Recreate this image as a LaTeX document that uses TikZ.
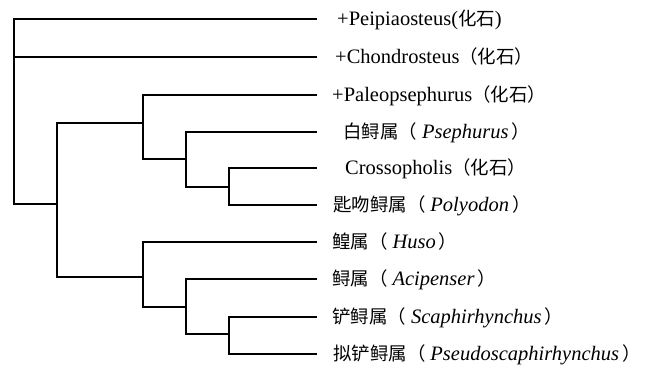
\documentclass[tikz,border=0pt]{standalone}
\usepackage{fontspec}
\setmainfont{Liberation Serif}
\newfontfamily\cjk[Scale=0.9]{Noto Sans CJK SC}
\newcommand{\zh}[1]{{\cjk #1}}
\newcommand{\gen}[1]{\zh{（}\hspace{5pt}\textit{#1}\hspace{3pt}\zh{）}}
\begin{document}
\begin{tikzpicture}[x=1pt,y=-1pt,
  br/.style={line width=1.1pt, line cap=rect},
  lbl/.style={anchor=base west, inner sep=0pt, font=\fontsize{20.5}{22}\selectfont}]
\useasboundingbox (0,0) rectangle (662,366);
% leaf ends
\coordinate (e1) at (316,19);
\coordinate (e2) at (316,57);
\coordinate (e3) at (316,95);
\coordinate (e4) at (316,132);
\coordinate (e5) at (316,168);
\coordinate (e6) at (316,205);
\coordinate (e7) at (316,242);
\coordinate (e8) at (316,279);
\coordinate (e9) at (316,317);
\coordinate (e10) at (316,354);
% internal nodes
\coordinate (r) at (14,204);
\coordinate (a) at (57,204);
\coordinate (b) at (143,123);
\coordinate (d) at (186,159);
\coordinate (f) at (229,187);
\coordinate (c) at (143,277);
\coordinate (g) at (186,307);
\coordinate (h) at (229,334);
% branches
\draw[br] (r) |- (e1);
\draw[br] (r) |- (e2);
\draw[br] (r) -- (a);
\draw[br] (a) |- (b);
\draw[br] (a) |- (c);
\draw[br] (b) |- (e3);
\draw[br] (b) |- (d);
\draw[br] (d) |- (e4);
\draw[br] (d) |- (f);
\draw[br] (f) |- (e5);
\draw[br] (f) |- (e6);
\draw[br] (c) |- (e7);
\draw[br] (c) |- (g);
\draw[br] (g) |- (e8);
\draw[br] (g) |- (h);
\draw[br] (h) |- (e9);
\draw[br] (h) |- (e10);
% labels
\node[lbl] (t1) at (337,26) {+Peipiaosteus(\zh{化石})};
\node[lbl] (t2) at (335,64) {+Chondrosteus\zh{（化石）}};
\node[lbl] (t3) at (332,102) {+Paleopsephurus\zh{（化石）}};
\node[lbl] (t4) at (343,139) {\zh{白鲟属}\gen{Psephurus}};
\node[lbl] (t5) at (345,175) {Crossopholis\zh{（化石）}};
\node[lbl] (t6) at (333,212) {\zh{匙吻鲟属}\gen{Polyodon}};
\node[lbl] (t7) at (332,249) {\zh{鳇属}\gen{Huso}};
\node[lbl] (t8) at (332,286) {\zh{鲟属}\gen{Acipenser}};
\node[lbl] (t9) at (332,324) {\zh{铲鲟属}\gen{Scaphirhynchus}};
\node[lbl] (t10) at (333,361) {\zh{拟铲鲟属}\gen{Pseudoscaphirhynchus}};
\end{tikzpicture}
\end{document}
